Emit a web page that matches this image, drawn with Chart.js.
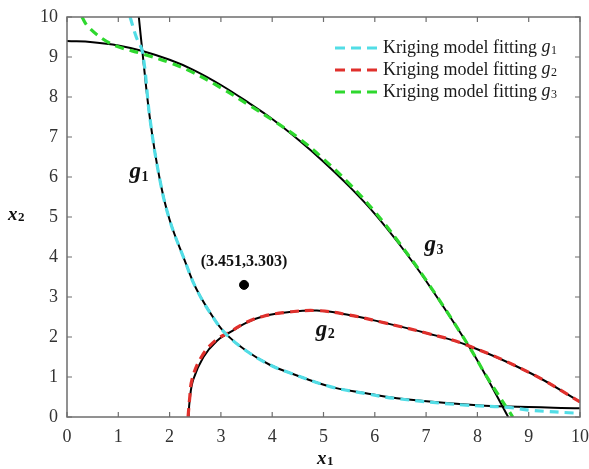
<!DOCTYPE html>
<html>
<head>
<meta charset="utf-8">
<script src="https://cdn.jsdelivr.net/npm/chart.js@4.4.0/dist/chart.umd.min.js"></script>
<style>
  html, body { margin: 0; padding: 0; background: #fff; }
  #wrap { width: 589px; height: 469px; position: relative; }
</style>
</head>
<body>
<div id="wrap"><canvas id="c" width="589" height="469"></canvas></div>
<script>
// ---- data ----
const xTicks = [0,1,2,3,4,5,6,7,8,9,10];
const yTicks = [0,1,2,3,4,5,6,7,8,9,10];

const g1TrueX = [1.40,1.47,1.62,1.81,2.00,2.29,2.53,2.88,3.11,3.50,3.96,4.35,5.13,5.80,6.43,7.72,8.60,10.0];
const g1TrueY = [10.0,9.13,7.43,5.93,4.93,3.93,3.18,2.43,2.06,1.65,1.30,1.10,0.76,0.60,0.47,0.32,0.26,0.22];
const g1KrigX = [1.23,1.35,1.47,1.62,1.81,2.00,2.29,2.53,2.88,3.11,3.50,3.96,4.35,5.13,5.80,6.43,7.72,8.60,9.03,10.0];
const g1KrigY = [10.0,9.50,9.13,7.43,5.93,4.93,3.93,3.18,2.43,2.06,1.65,1.30,1.10,0.76,0.59,0.46,0.30,0.24,0.17,0.09];

const g2TrueX = [2.37,2.39,2.46,2.66,2.92,3.18,3.50,3.83,4.30,4.87,5.50,6.10,7.00,7.79,9.03,10.0];
const g2TrueY = [0.00,0.40,0.93,1.50,1.90,2.12,2.36,2.52,2.62,2.66,2.55,2.38,2.10,1.80,1.10,0.38];
const g2KrigX = [2.36,2.39,2.44,2.62,2.89,3.18,3.50,3.83,4.30,4.87,5.50,6.10,7.00,7.79,9.03,10.0];
const g2KrigY = [0.00,0.45,0.95,1.50,1.91,2.13,2.37,2.52,2.62,2.66,2.55,2.38,2.10,1.80,1.10,0.38];

const g3TrueX = [0.00,0.50,1.00,1.47,2.00,2.46,3.00,3.57,4.00,4.54,5.00,5.52,6.00,6.49,7.00,7.82,8.20,8.60];
const g3TrueY = [9.40,9.37,9.29,9.15,8.93,8.68,8.30,7.83,7.45,6.90,6.38,5.74,5.08,4.30,3.40,1.80,0.95,0.00];
const g3KrigX = [0.29,0.41,0.70,0.97,1.47,2.00,2.46,3.00,3.57,4.00,4.54,5.00,5.52,6.00,6.49,7.00,7.82,8.20,8.69];
const g3KrigY = [10.0,9.76,9.45,9.27,9.08,8.86,8.61,8.23,7.78,7.43,6.95,6.45,5.81,5.13,4.33,3.42,1.80,0.97,0.00];

const pointX = [3.451];
const pointY = [3.303];
const pointLabel = "(3.451,3.303)";

const legendItems = ["Kriging model fitting", "Kriging model fitting", "Kriging model fitting"];
const legendSubs = ["1","2","3"];
const curveNames = ["g","g","g"];
const curveSubs = ["1","2","3"];
const curveLabelAt = [[1.22, 6.12], [4.85, 2.18], [6.97, 4.30]];

// ---- styling ----
const COLORS = ["#52dde6", "#e0302c", "#2ed82e"];
const SERIF = '"Liberation Serif", "Times New Roman", serif';

function pts(xs, ys) { return xs.map((x, i) => ({x: x, y: ys[i]})); }

const dashedBase = { showLine: true, pointRadius: 0, borderWidth: 3.2, borderDash: [9, 6], tension: 0.4, fill: false };
const solidBase = { showLine: true, pointRadius: 0, borderWidth: 2, borderColor: '#000', tension: 0.4, fill: false };

const datasets = [
  Object.assign({}, dashedBase, { label: 'k1', data: pts(g1KrigX, g1KrigY), borderColor: COLORS[0], order: 1 }),
  Object.assign({}, dashedBase, { label: 'k2', data: pts(g2KrigX, g2KrigY), borderColor: COLORS[1], order: 1 }),
  Object.assign({}, dashedBase, { label: 'k3', data: pts(g3KrigX, g3KrigY), borderColor: COLORS[2], order: 1 }),
  Object.assign({}, solidBase, { label: 't1', data: pts(g1TrueX, g1TrueY), order: 2 }),
  Object.assign({}, solidBase, { label: 't2', data: pts(g2TrueX, g2TrueY), order: 2 }),
  Object.assign({}, solidBase, { label: 't3', data: pts(g3TrueX, g3TrueY), order: 2 }),
  { label: 'pt', data: pts(pointX, pointY), showLine: false, pointRadius: 4.5, pointBackgroundColor: '#000', pointBorderColor: '#000', order: 0 }
];

function drawSubText(ctx, x, y, main, sub, mainFont, subFont, subDy) {
  ctx.font = mainFont;
  ctx.fillText(main, x, y);
  const w = ctx.measureText(main).width;
  ctx.font = subFont;
  ctx.fillText(sub, x + w + 0.5, y + subDy);
}

const framePlugin = {
  id: 'frame',
  afterDatasetsDraw(chart) {
    const ctx = chart.ctx;
    const a = chart.chartArea;
    const xs = chart.scales.x, ys = chart.scales.y;
    ctx.save();
    ctx.strokeStyle = '#6e6e6e';
    ctx.lineWidth = 1.5;
    ctx.strokeRect(a.left, a.top, a.right - a.left, a.bottom - a.top);
    ctx.lineWidth = 1.2;
    const tl = 5;
    ctx.beginPath();
    xTicks.forEach(v => {
      const px = xs.getPixelForValue(v);
      ctx.moveTo(px, a.bottom); ctx.lineTo(px, a.bottom - tl);
      ctx.moveTo(px, a.top); ctx.lineTo(px, a.top + tl);
    });
    yTicks.forEach(v => {
      const py = ys.getPixelForValue(v);
      ctx.moveTo(a.left, py); ctx.lineTo(a.left + tl, py);
      ctx.moveTo(a.right, py); ctx.lineTo(a.right - tl, py);
    });
    ctx.stroke();

    // legend
    ctx.textBaseline = 'middle';
    ctx.fillStyle = '#1a1a1a';
    const rowY = [48, 70, 92];
    for (let i = 0; i < 3; i++) {
      ctx.strokeStyle = COLORS[i];
      ctx.lineWidth = 3.2;
      ctx.setLineDash([10, 6]);
      ctx.beginPath();
      ctx.moveTo(335, rowY[i]); ctx.lineTo(378, rowY[i]);
      ctx.stroke();
      ctx.setLineDash([]);
      ctx.font = '18px ' + SERIF;
      ctx.fillText(legendItems[i], 383, rowY[i]);
      const w = ctx.measureText(legendItems[i] + ' ').width;
      drawSubText(ctx, 383 + w, rowY[i] - 1, 'g', legendSubs[i], 'italic 18px ' + SERIF, '12px ' + SERIF, 4);
    }

    // curve labels
    ctx.fillStyle = '#111';
    curveLabelAt.forEach((p, i) => {
      const px = xs.getPixelForValue(p[0]);
      const py = ys.getPixelForValue(p[1]);
      drawSubText(ctx, px, py, curveNames[i], curveSubs[i], 'italic bold 23px ' + SERIF, 'bold 14px ' + SERIF, 5);
    });

    // point label
    ctx.textAlign = 'center';
    ctx.font = 'bold 16px ' + SERIF;
    ctx.fillText(pointLabel, xs.getPixelForValue(pointX[0]), ys.getPixelForValue(pointY[0]) - 23);
    ctx.textAlign = 'left';

    // axis titles
    drawSubText(ctx, 317, 459, 'x', '1', 'italic bold 19px ' + SERIF, 'bold 13px ' + SERIF, 3);
    drawSubText(ctx, 8, 215, 'x', '2', 'italic bold 19px ' + SERIF, 'bold 13px ' + SERIF, 3);
    ctx.restore();
  }
};

new Chart(document.getElementById('c'), {
  type: 'scatter',
  data: { datasets: datasets },
  options: {
    responsive: false,
    animation: false,
    devicePixelRatio: 1,
    layout: { padding: { top: 17, right: 9, left: 0, bottom: 0 } },
    plugins: { legend: { display: false }, tooltip: { enabled: false } },
    scales: {
      x: {
        type: 'linear', min: 0, max: 10,
        grid: { display: false, drawTicks: false },
        border: { display: false },
        afterFit(s) { s.height = 52; s.paddingRight = 0; s.paddingLeft = 0; },
        afterBuildTicks(s) { s.ticks = xTicks.map(v => ({ value: v })); },
        ticks: { font: { family: SERIF, size: 18 }, color: '#333', padding: 9, maxRotation: 0, autoSkip: false }
      },
      y: {
        type: 'linear', min: 0, max: 10,
        grid: { display: false, drawTicks: false },
        border: { display: false },
        afterFit(s) { s.width = 67; s.paddingTop = 0; s.paddingBottom = 0; },
        afterBuildTicks(s) { s.ticks = yTicks.map(v => ({ value: v })); },
        ticks: { font: { family: SERIF, size: 18 }, color: '#333', padding: 9, autoSkip: false }
      }
    }
  },
  plugins: [framePlugin]
});
</script>
</body>
</html>
